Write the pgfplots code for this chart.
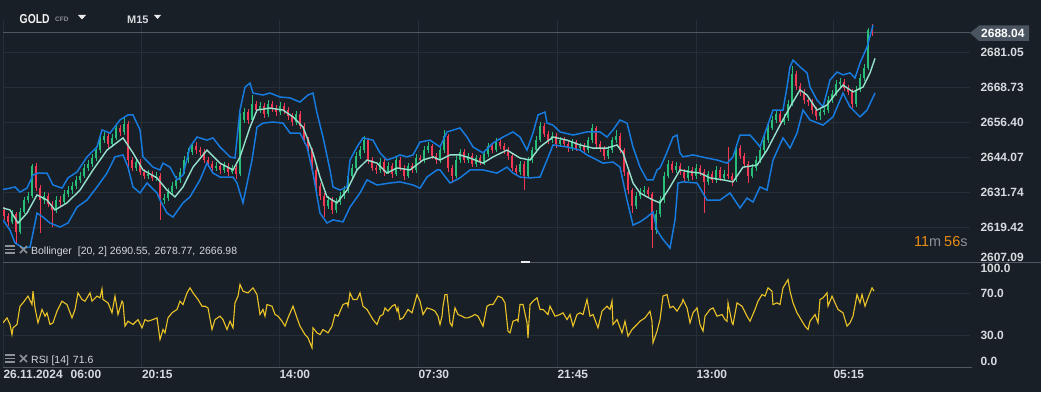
\documentclass[border=0pt]{standalone}
\usepackage{fontspec}
\setmainfont{Liberation Sans}
\usepackage{pgfplots}
\pgfplotsset{compat=1.18}
\usepackage{pgfplotstable}
\definecolor{bgc}{RGB}{24,31,38}
\definecolor{gridc}{RGB}{38,46,55}
\definecolor{sepc}{RGB}{78,87,98}
\definecolor{txtc}{RGB}{214,218,222}
\definecolor{dimc}{RGB}{140,146,152}
\definecolor{upc}{RGB}{38,190,120}
\definecolor{dnc}{RGB}{242,56,82}
\definecolor{bbc}{RGB}{22,122,222}
\definecolor{midc}{RGB}{150,225,205}
\definecolor{rsic}{RGB}{236,196,40}
\definecolor{orgc}{RGB}{232,140,20}
\definecolor{tagc}{RGB}{74,84,96}

\pgfplotstableread{
x o h l c
4 2625.4 2626.5 2622.0 2623.3
8 2623.3 2624.4 2619.8 2621.2
12 2621.2 2625.3 2620.5 2624.0
16 2624.0 2624.8 2613.8 2617.6
20 2617.6 2626.0 2616.9 2624.7
24 2624.7 2630.1 2623.9 2628.9
28 2628.9 2631.8 2627.8 2630.3
32 2630.3 2641.6 2629.5 2640.9
36 2640.9 2641.8 2632.0 2633.1
40 2633.1 2634.2 2617.3 2628.9
44 2628.9 2631.6 2627.6 2630.3
48 2630.3 2631.4 2626.3 2627.5
52 2627.5 2628.6 2619.4 2625.4
56 2625.4 2630.2 2624.5 2628.9
60 2628.9 2630.4 2626.8 2628.2
64 2628.2 2632.3 2627.3 2631.0
68 2631.0 2633.9 2630.1 2632.4
72 2632.4 2635.2 2631.2 2633.8
76 2633.8 2637.4 2632.9 2636.0
80 2636.0 2638.9 2634.8 2637.4
84 2637.4 2641.5 2636.5 2640.2
88 2640.2 2643.0 2639.1 2641.6
92 2641.6 2645.0 2640.4 2643.7
96 2643.7 2647.9 2642.8 2646.5
100 2646.5 2651.3 2645.4 2650.0
104 2650.0 2652.8 2648.9 2651.5
108 2651.5 2652.4 2647.3 2648.6
112 2648.6 2652.0 2647.5 2650.8
116 2650.8 2655.5 2649.9 2654.3
120 2654.3 2655.4 2651.6 2652.9
124 2652.9 2657.8 2651.8 2655.7
128 2655.7 2656.6 2638.8 2643.0
132 2643.0 2644.2 2639.0 2640.2
136 2640.2 2643.6 2639.3 2642.3
140 2642.3 2643.4 2637.6 2638.8
144 2638.8 2640.0 2636.2 2637.4
148 2637.4 2639.5 2636.3 2638.1
152 2638.1 2639.2 2635.6 2636.7
156 2636.7 2638.8 2635.5 2637.4
160 2637.4 2638.3 2621.9 2628.9
164 2628.9 2631.0 2627.6 2629.6
168 2629.6 2633.0 2628.7 2631.7
172 2631.7 2635.1 2630.8 2633.8
176 2633.8 2637.4 2632.9 2636.0
180 2636.0 2640.2 2635.0 2638.8
184 2638.8 2644.4 2638.0 2643.0
188 2643.0 2647.1 2642.1 2645.8
192 2645.8 2649.0 2644.9 2647.9
196 2647.9 2649.3 2645.2 2646.5
200 2646.5 2647.7 2644.5 2645.8
204 2645.8 2646.9 2641.8 2643.0
208 2643.0 2644.2 2640.4 2641.6
212 2641.6 2642.8 2639.0 2640.2
216 2640.2 2642.3 2639.1 2640.9
220 2640.9 2642.0 2638.2 2639.5
224 2639.5 2642.2 2638.4 2640.9
228 2640.9 2641.9 2637.5 2638.8
232 2638.8 2641.4 2637.9 2640.2
236 2640.2 2641.2 2636.2 2638.1
240 2638.1 2659.6 2637.5 2657.1
244 2657.1 2661.4 2656.0 2659.9
248 2659.9 2661.0 2655.7 2657.1
252 2657.1 2665.9 2656.3 2662.7
256 2662.7 2663.9 2659.4 2660.6
260 2660.6 2663.5 2659.5 2662.0
264 2662.0 2663.0 2657.9 2659.2
268 2659.2 2664.2 2658.3 2662.7
272 2662.7 2663.8 2660.0 2661.3
276 2661.3 2662.5 2658.6 2659.9
280 2659.9 2663.3 2659.0 2662.0
284 2662.0 2663.1 2659.3 2660.6
288 2660.6 2661.7 2657.2 2658.5
292 2658.5 2659.4 2655.0 2656.4
296 2656.4 2660.4 2655.5 2659.2
300 2659.2 2660.2 2653.8 2655.0
304 2655.0 2656.0 2648.7 2650.0
308 2650.0 2651.1 2645.0 2646.5
312 2646.5 2647.4 2637.9 2639.5
316 2639.5 2640.4 2632.1 2633.8
320 2633.8 2634.9 2628.8 2630.3
324 2630.3 2631.5 2622.9 2626.8
328 2626.8 2630.2 2625.7 2628.9
332 2628.9 2629.9 2623.9 2625.4
336 2625.4 2629.5 2624.3 2628.2
340 2628.2 2631.6 2627.1 2630.3
344 2630.3 2633.8 2629.4 2632.4
348 2632.4 2638.6 2631.5 2637.4
352 2637.4 2641.5 2636.3 2640.2
356 2640.2 2645.8 2639.2 2644.4
360 2644.4 2647.9 2643.5 2646.5
364 2646.5 2651.5 2645.6 2650.0
368 2650.0 2650.8 2641.6 2643.0
372 2643.0 2644.1 2639.0 2640.2
376 2640.2 2641.4 2638.1 2639.5
380 2639.5 2643.6 2638.6 2642.3
384 2642.3 2643.2 2637.4 2638.8
388 2638.8 2642.2 2637.9 2640.9
392 2640.9 2641.8 2636.8 2638.1
396 2638.1 2644.4 2637.2 2643.0
400 2643.0 2644.0 2639.0 2640.2
404 2640.2 2641.2 2636.1 2637.4
408 2637.4 2642.0 2636.5 2640.9
412 2640.9 2642.1 2638.3 2639.5
416 2639.5 2645.0 2638.6 2643.7
420 2643.7 2644.9 2641.8 2643.0
424 2643.0 2647.8 2642.1 2646.5
428 2646.5 2649.2 2645.6 2647.9
432 2647.9 2648.8 2643.2 2644.4
436 2644.4 2645.5 2641.7 2643.0
440 2643.0 2647.8 2642.0 2646.5
444 2646.5 2653.6 2645.6 2651.5
448 2651.5 2652.3 2638.9 2640.2
452 2640.2 2641.2 2634.9 2637.4
456 2637.4 2644.3 2636.5 2643.0
460 2643.0 2647.0 2642.1 2645.8
464 2645.8 2646.8 2641.9 2643.0
468 2643.0 2645.6 2642.0 2644.4
472 2644.4 2645.3 2640.4 2641.6
476 2641.6 2644.9 2640.7 2643.7
480 2643.7 2644.8 2641.2 2642.3
484 2642.3 2646.3 2641.3 2645.1
488 2645.1 2649.1 2644.2 2647.9
492 2647.9 2648.9 2645.3 2646.5
496 2646.5 2650.8 2645.7 2649.3
500 2649.3 2650.3 2646.8 2647.9
504 2647.9 2649.0 2645.2 2646.5
508 2646.5 2647.5 2643.1 2644.4
512 2644.4 2645.3 2639.0 2640.2
516 2640.2 2641.3 2637.6 2638.8
520 2638.8 2642.8 2637.8 2641.6
524 2641.6 2642.5 2632.4 2637.4
528 2637.4 2644.2 2636.6 2643.0
532 2643.0 2647.7 2642.0 2646.5
536 2646.5 2651.3 2645.6 2650.0
540 2650.0 2656.4 2649.2 2655.0
544 2655.0 2656.0 2651.0 2652.2
548 2652.2 2653.2 2648.8 2650.0
552 2650.0 2652.7 2649.0 2651.5
556 2651.5 2652.4 2647.4 2648.6
560 2648.6 2651.2 2647.6 2650.0
564 2650.0 2651.0 2647.5 2648.6
568 2648.6 2649.6 2646.0 2647.2
572 2647.2 2650.5 2646.3 2649.3
576 2649.3 2650.2 2646.1 2647.2
580 2647.2 2649.1 2646.2 2647.9
584 2647.9 2648.9 2645.3 2646.5
588 2646.5 2651.2 2645.6 2650.0
592 2650.0 2655.7 2649.1 2654.3
596 2654.3 2655.1 2647.4 2648.6
600 2648.6 2649.7 2646.0 2647.2
604 2647.2 2648.1 2643.1 2644.4
608 2644.4 2647.8 2643.5 2646.5
612 2646.5 2651.2 2645.6 2650.0
616 2650.0 2653.6 2649.0 2651.5
620 2651.5 2652.4 2645.3 2646.5
624 2646.5 2647.3 2637.3 2638.8
628 2638.8 2639.6 2630.9 2632.4
632 2632.4 2633.3 2624.3 2626.8
636 2626.8 2631.6 2625.8 2630.3
640 2630.3 2633.0 2629.4 2631.7
644 2631.7 2633.9 2630.6 2632.4
648 2632.4 2633.5 2629.9 2631.0
652 2631.0 2631.8 2612.0 2618.3
656 2618.3 2625.3 2617.1 2624.0
660 2624.0 2630.2 2623.0 2628.9
664 2628.9 2638.7 2628.0 2637.4
668 2637.4 2643.0 2636.5 2641.6
672 2641.6 2642.6 2638.3 2639.5
676 2639.5 2642.2 2638.5 2640.9
680 2640.9 2641.9 2637.6 2638.8
684 2638.8 2639.9 2635.4 2636.7
688 2636.7 2640.8 2635.7 2639.5
692 2639.5 2640.5 2636.1 2637.4
696 2637.4 2641.6 2636.4 2640.2
700 2640.2 2641.3 2637.5 2638.8
704 2638.8 2639.8 2624.3 2635.3
708 2635.3 2639.3 2634.2 2638.1
712 2638.1 2639.2 2634.8 2636.0
716 2636.0 2640.8 2635.0 2639.5
720 2639.5 2640.5 2635.5 2636.7
724 2636.7 2639.4 2635.6 2638.1
728 2638.1 2647.6 2636.2 2637.4
732 2637.4 2638.5 2633.8 2636.0
736 2636.0 2648.5 2635.2 2647.2
740 2647.2 2648.2 2643.2 2644.4
744 2644.4 2645.4 2640.3 2641.6
748 2641.6 2642.5 2634.9 2637.4
752 2637.4 2641.5 2636.5 2640.2
756 2640.2 2644.3 2639.3 2643.0
760 2643.0 2647.8 2642.1 2646.5
764 2646.5 2651.3 2645.6 2650.0
768 2650.0 2655.6 2649.1 2654.3
772 2654.3 2658.5 2653.4 2657.1
776 2657.1 2660.6 2656.2 2659.2
780 2659.2 2660.2 2655.1 2656.4
784 2656.4 2659.1 2655.4 2657.8
788 2657.8 2664.1 2656.9 2662.7
792 2662.7 2676.1 2661.9 2673.3
796 2673.3 2674.2 2667.8 2669.1
800 2669.1 2670.2 2665.7 2667.0
804 2667.0 2668.0 2662.8 2664.1
808 2664.1 2665.3 2662.0 2663.4
812 2663.4 2664.4 2659.3 2660.6
816 2660.6 2661.6 2657.2 2658.5
820 2658.5 2661.1 2657.1 2659.9
824 2659.9 2662.0 2658.8 2660.6
828 2660.6 2665.4 2659.7 2664.1
832 2664.1 2667.6 2663.2 2666.3
836 2666.3 2671.1 2665.4 2669.8
840 2669.8 2671.9 2668.7 2670.5
844 2670.5 2671.5 2667.2 2668.4
848 2668.4 2669.4 2665.8 2667.0
852 2667.0 2668.0 2661.3 2662.7
856 2662.7 2669.0 2661.8 2667.7
860 2667.7 2673.2 2666.8 2671.9
864 2671.9 2676.8 2671.0 2675.4
868 2675.4 2689.6 2674.6 2688.8
872 2688.8 2690.9 2686.6 2688.0
}\candles

\pgfplotstableread{
x y
0 2632.4
10 2633.1
15 2633.5
20 2631.7
27 2633.1
33 2637.7
38 2638.4
47 2638.4
53 2634.2
62 2633.1
68 2636.7
77 2638.8
87 2644.1
97 2647.6
102 2653.6
110 2652.5
120 2657.1
128 2658.9
133 2658.9
140 2653.6
143 2644.1
153 2640.5
160 2639.5
163 2641.9
170 2640.5
177 2636.0
183 2637.7
190 2647.6
197 2651.1
207 2650.0
213 2650.8
220 2647.6
230 2644.1
235 2643.7
240 2660.6
245 2668.7
250 2670.1
253 2666.6
263 2665.9
270 2666.6
280 2665.2
290 2664.9
300 2663.4
308 2665.9
313 2666.6
317 2659.6
323 2651.1
330 2639.5
333 2633.5
340 2632.4
347 2633.5
350 2643.0
357 2647.6
363 2650.8
373 2650.0
380 2645.5
387 2643.0
393 2643.7
400 2644.8
407 2644.1
413 2644.8
420 2649.3
430 2650.0
440 2647.6
447 2652.9
460 2654.3
467 2651.1
473 2647.6
483 2645.5
493 2649.0
503 2651.1
513 2652.9
520 2651.1
527 2646.5
533 2652.5
538 2658.9
545 2659.9
547 2656.0
553 2655.3
560 2652.9
573 2651.8
587 2652.9
600 2652.9
607 2651.1
613 2653.6
620 2657.1
627 2656.0
633 2647.6
640 2640.5
647 2636.0
653 2636.0
657 2639.5
660 2640.2
665 2644.1
673 2651.1
677 2651.8
680 2645.5
683 2644.1
693 2644.8
707 2643.7
717 2643.0
727 2641.9
733 2644.1
740 2651.8
750 2651.8
757 2649.0
760 2647.6
767 2654.6
773 2660.6
783 2660.6
787 2668.7
790 2675.8
793 2678.2
800 2675.8
807 2673.7
810 2668.7
817 2664.1
823 2661.7
830 2671.2
837 2674.0
843 2673.0
850 2673.7
855 2671.9
860 2677.2
867 2682.8
873 2690.5
}\bbup

\pgfplotstableread{
x y
0 2626.4
10 2625.4
18 2620.8
27 2624.3
37 2630.7
47 2628.9
55 2625.4
67 2627.9
80 2632.4
93 2639.5
107 2646.5
123 2650.8
133 2645.5
143 2639.5
157 2636.7
167 2632.4
175 2630.0
183 2633.5
193 2640.5
207 2646.5
217 2643.0
220 2641.9
233 2639.5
240 2644.1
250 2654.6
257 2660.6
270 2661.3
283 2660.6
293 2658.2
303 2654.6
313 2645.5
320 2637.0
327 2630.0
337 2627.9
347 2632.4
357 2639.5
367 2643.0
377 2641.9
387 2638.4
397 2640.2
410 2639.5
423 2643.0
433 2644.1
440 2643.0
450 2644.8
460 2644.8
470 2643.7
483 2641.9
493 2644.1
507 2646.5
520 2643.7
530 2643.0
540 2647.6
553 2651.1
567 2650.0
580 2648.3
593 2647.2
607 2647.2
617 2648.3
623 2645.5
633 2634.9
640 2631.4
647 2630.0
653 2628.9
660 2627.9
670 2633.5
680 2639.5
690 2638.8
700 2638.4
710 2636.7
723 2636.0
733 2635.3
743 2640.5
757 2641.2
767 2646.5
780 2655.3
790 2661.7
800 2667.7
807 2665.9
817 2660.6
827 2662.4
837 2667.0
843 2669.4
853 2667.0
863 2668.7
870 2673.7
875 2678.8
}\bbmid

\pgfplotstableread{
x y
3 2621.9
10 2618.3
15 2613.8
23 2612.0
30 2612.3
33 2617.3
37 2624.3
43 2622.9
50 2620.8
60 2619.4
68 2620.8
77 2626.4
87 2628.9
97 2633.5
107 2638.4
115 2644.1
123 2644.8
128 2640.5
133 2633.5
140 2631.4
147 2634.9
157 2631.4
160 2628.9
167 2624.3
173 2622.9
183 2627.9
190 2630.0
200 2636.0
207 2641.9
213 2638.4
220 2637.0
233 2637.0
237 2634.9
240 2631.4
243 2627.9
252 2643.0
257 2654.6
263 2656.0
273 2656.4
283 2656.0
290 2652.5
300 2652.5
307 2647.6
313 2638.4
320 2624.3
327 2620.8
333 2621.9
343 2621.2
350 2626.4
360 2631.4
367 2636.0
377 2634.2
390 2634.9
400 2635.3
413 2634.2
420 2633.1
427 2637.0
437 2639.5
440 2639.5
450 2634.9
460 2636.7
470 2639.5
483 2639.5
497 2638.4
507 2640.5
513 2638.4
520 2637.0
530 2636.7
540 2637.0
547 2643.0
553 2648.3
567 2647.6
580 2646.5
587 2644.8
597 2643.0
603 2641.9
613 2642.3
620 2640.5
627 2628.9
633 2620.1
640 2621.2
647 2622.9
653 2624.7
657 2618.3
662 2615.5
670 2612.0
675 2621.9
678 2634.9
683 2635.3
697 2634.9
707 2628.9
720 2628.9
730 2631.4
740 2626.1
747 2629.6
753 2628.2
760 2633.5
767 2632.4
773 2643.0
783 2650.8
790 2647.2
797 2652.5
803 2660.6
810 2657.1
823 2655.3
833 2658.2
843 2666.6
850 2661.7
860 2658.2
867 2660.6
875 2666.6
}\bblow

\pgfplotstableread{
x r
3 42.1
7 46.8
10 40.5
12 30.9
13 37.3
17 40.5
20 57.9
23 61.1
28 67.5
32 59.5
33 72.2
35 56.3
38 42.1
42 54.8
45 48.4
47 51.6
50 40.5
53 42.1
57 53.2
62 62.7
67 59.5
72 46.8
75 54.8
78 70.6
82 64.3
85 62.7
90 70.6
92 62.7
97 67.5
100 65.9
102 74.4
103 64.3
108 61.1
112 51.6
115 67.5
118 50.0
122 62.7
123 61.1
125 38.9
128 43.6
133 40.5
138 45.2
142 37.3
145 45.2
148 43.6
153 45.2
157 46.8
160 26.2
163 35.7
165 32.5
168 46.8
172 51.6
177 54.8
180 62.7
183 59.5
187 70.6
190 75.4
193 70.6
198 64.3
202 57.9
205 57.9
208 56.3
212 35.7
215 45.2
220 48.4
223 45.2
227 35.7
230 43.6
233 37.3
235 61.1
238 67.5
240 78.6
243 72.2
248 70.6
253 75.4
257 69.0
260 50.0
263 54.8
265 48.4
267 59.5
272 57.9
275 50.0
278 48.4
282 43.6
285 38.9
288 46.8
293 57.9
297 46.8
300 38.9
305 30.9
308 27.8
312 18.2
313 37.3
317 32.5
320 30.9
323 35.7
328 32.5
332 38.9
335 50.0
338 48.4
343 59.5
347 61.1
348 57.9
350 70.6
353 64.3
357 64.3
360 70.6
363 57.9
367 54.8
370 50.0
373 45.2
377 40.5
380 48.4
383 50.0
385 56.3
388 53.2
392 57.9
395 59.5
397 53.2
398 56.3
400 45.2
403 46.8
408 54.8
412 51.6
417 69.0
420 62.7
423 50.0
427 56.3
432 54.8
435 53.2
438 48.4
440 40.5
442 48.4
443 57.9
445 69.0
447 69.0
450 42.1
452 38.9
455 56.3
458 50.0
462 48.4
465 46.8
468 46.8
472 48.4
475 50.0
478 48.4
483 38.9
487 57.9
490 59.5
493 59.5
498 67.5
502 65.9
505 61.1
508 34.1
510 32.5
513 43.6
517 45.2
518 43.6
520 59.5
523 59.5
527 42.1
528 27.8
530 59.5
533 62.7
537 65.9
540 54.8
543 54.8
548 50.0
550 57.9
555 48.4
560 50.0
563 51.6
567 45.2
570 50.0
573 38.9
577 50.0
580 51.6
583 50.0
587 64.3
590 48.4
593 50.0
598 37.3
602 53.2
607 57.9
610 54.8
612 62.7
613 40.5
617 45.2
622 32.5
625 43.6
628 29.3
632 35.7
637 40.5
640 43.6
645 46.8
650 53.2
652 43.6
653 23.0
657 34.1
660 45.2
663 67.5
667 69.0
670 56.3
673 57.9
677 53.2
682 61.1
683 64.3
687 56.3
690 42.1
693 51.6
697 56.3
700 40.5
703 34.1
705 48.4
710 54.8
713 56.3
717 48.4
722 50.0
725 45.2
727 43.6
728 61.1
732 42.1
733 40.5
737 61.1
742 57.9
747 48.4
750 43.6
755 54.8
758 62.7
762 69.0
765 67.5
768 75.4
772 72.2
773 59.5
777 61.1
780 59.5
783 75.4
788 83.3
790 72.2
793 61.1
797 51.6
802 43.6
805 38.9
808 35.7
810 43.6
815 50.0
818 42.1
820 64.3
823 65.9
827 70.6
828 57.9
832 67.5
835 61.1
838 54.8
843 51.6
847 38.9
850 42.1
853 48.4
857 69.0
860 61.1
862 69.0
865 57.9
868 65.9
872 75.4
874 72.2
}\rsidata

\pgfplotsset{
  panel/.style={
    anchor=south west, scale only axis, width=967bp,
    xmin=3, xmax=970,
    axis line style={draw=none}, major tick length=0pt,
    tick style={draw=none},
    grid=major, grid style={draw=gridc, line width=0.8bp},
    xtick={3,141.5,279,418,557,696,833},
    yticklabel pos=right,
    y tick label style={anchor=west, xshift=7bp, font=\fontsize{12}{12}\selectfont\bfseries, text=txtc},
    x tick label style={anchor=north west, xshift=-3bp, font=\fontsize{12}{12}\selectfont\bfseries, text=txtc},
    extra y tick style={grid=none},
  }
}

\begin{document}
\begin{tikzpicture}[x=1bp,y=1bp]
\fill[bgc] (0,0) rectangle (1041,392);
\useasboundingbox (0,0) rectangle (1041,392);

% main price panel
\begin{axis}[panel, at={(3bp,130bp)}, height=242bp,
  ymin=2607.07, ymax=2692.33,
  xticklabels={,,,,,,},
  ytick={2619.42,2631.74,2644.07,2656.40,2668.73,2681.05},
  yticklabels={2619.42,2631.74,2644.07,2656.40,2668.73,2681.05},
  extra y ticks={2608.85}, extra y tick labels={2607.09},
]
\draw[sepc, line width=0.8bp] (axis cs:3,2688.04) -- (axis cs:970,2688.04);
% wicks
\addplot[draw=none, mark=none, forget plot, error bars/.cd, y dir=both, y explicit, error mark=none,
  error bar style={draw=upc, line width=0.7bp}]
  table[x=x, y expr={\thisrow{c}>=\thisrow{o} ? 0.5*(\thisrow{h}+\thisrow{l}) : nan},
        y error expr={0.5*(\thisrow{h}-\thisrow{l})}] {\candles};
\addplot[draw=none, mark=none, forget plot, error bars/.cd, y dir=both, y explicit, error mark=none,
  error bar style={draw=dnc, line width=0.7bp}]
  table[x=x, y expr={\thisrow{c}<\thisrow{o} ? 0.5*(\thisrow{h}+\thisrow{l}) : nan},
        y error expr={0.5*(\thisrow{h}-\thisrow{l})}] {\candles};
% bodies
\addplot[draw=none, mark=none, forget plot, error bars/.cd, y dir=both, y explicit, error mark=none,
  error bar style={draw=upc, line width=2.3bp}]
  table[x=x, y expr={\thisrow{c}>=\thisrow{o} ? 0.5*(\thisrow{o}+\thisrow{c}) : nan},
        y error expr={max(0.5*abs(\thisrow{c}-\thisrow{o}),0.2)}] {\candles};
\addplot[draw=none, mark=none, forget plot, error bars/.cd, y dir=both, y explicit, error mark=none,
  error bar style={draw=dnc, line width=2.3bp}]
  table[x=x, y expr={\thisrow{c}<\thisrow{o} ? 0.5*(\thisrow{o}+\thisrow{c}) : nan},
        y error expr={max(0.5*abs(\thisrow{c}-\thisrow{o}),0.2)}] {\candles};
% Bollinger
\addplot[bbc, line width=1.5bp, mark=none] table[x=x,y=y] {\bbup};
\addplot[bbc, line width=1.5bp, mark=none] table[x=x,y=y] {\bblow};
\addplot[midc, line width=1.4bp, mark=none] table[x=x,y=y] {\bbmid};
\end{axis}

% RSI panel
\begin{axis}[panel, at={(3bp,25bp)}, height=105bp,
  ymin=0, ymax=100,
  xticklabels={26.11.2024\hspace{8bp}06:00,20:15,14:00,07:30,21:45,13:00,05:15},
  ytick={30,70}, yticklabels={30.0,70.0},
  extra y ticks={5.7,94.3}, extra y tick labels={0.0,100.0},
]
\addplot[rsic, line width=1.1bp, mark=none] table[x=x,y=r] {\rsidata};
\end{axis}

% separators and overlays
\draw[sepc, line width=1bp] (3,130) -- (1041,130);
\draw[gridc!80!white, line width=0.8bp] (3,25) -- (972,25);
\fill[white!85!gray] (521,129) rectangle (530,131.5);

% price tag
\fill[tagc] (970,359) -- (979,366.5) -- (1029,366.5) -- (1029,351) -- (979,351) -- cycle;
\node[anchor=west, inner sep=0pt, text=white, font=\fontsize{12}{12}\selectfont\bfseries] at (981,358.8) {2688.04};

% header
\node[anchor=base west, inner sep=0pt, text=white!90!gray, font=\fontsize{13}{13}\selectfont\bfseries] at (19.5,369) {\scalebox{0.8}[1]{GOLD}};
\node[anchor=base west, inner sep=0pt, text=dimc, font=\fontsize{6.5}{7}\selectfont\bfseries] at (55,370.5) {CFD};
\fill[white!85!gray] (78,377) -- (86,377) -- (82,372.5) -- cycle;
\node[anchor=base west, inner sep=0pt, text=txtc, font=\fontsize{11}{12}\selectfont\bfseries] at (127,368.5) {M15};
\fill[white!85!gray] (154,377) -- (161,377) -- (157.5,373) -- cycle;

% indicator legends
\foreach \yy in {138,29}{
  \draw[dimc, line width=1.3bp] (5,\yy+8) -- (15,\yy+8);
  \draw[dimc, line width=1.3bp] (5,\yy+4.5) -- (15,\yy+4.5);
  \draw[dimc, line width=1.3bp] (5,\yy+1) -- (15,\yy+1);
  \draw[dimc, line width=1.6bp] (20,\yy+8) -- (27,\yy+1);
  \draw[dimc, line width=1.6bp] (20,\yy+1) -- (27,\yy+8);
}
\node[anchor=base west, inner sep=0pt, text=txtc, font=\fontsize{10.5}{11}\selectfont] at (31,138) {Bollinger\hspace{6bp}[20, 2] 2690.55,\hspace{4bp}2678.77,\hspace{4bp}2666.98};
\node[anchor=base west, inner sep=0pt, text=txtc, font=\fontsize{10.5}{11}\selectfont] at (31,29) {RSI [14]\hspace{4bp}71.6};

% countdown
\node[anchor=base west, inner sep=0pt, font=\fontsize{14.5}{15}\selectfont] at (914,145.5) {\textcolor{orgc}{11}\textcolor{dimc}{m}\hspace{3bp}\textcolor{orgc}{56}\textcolor{dimc}{s}};
\end{tikzpicture}
\end{document}
